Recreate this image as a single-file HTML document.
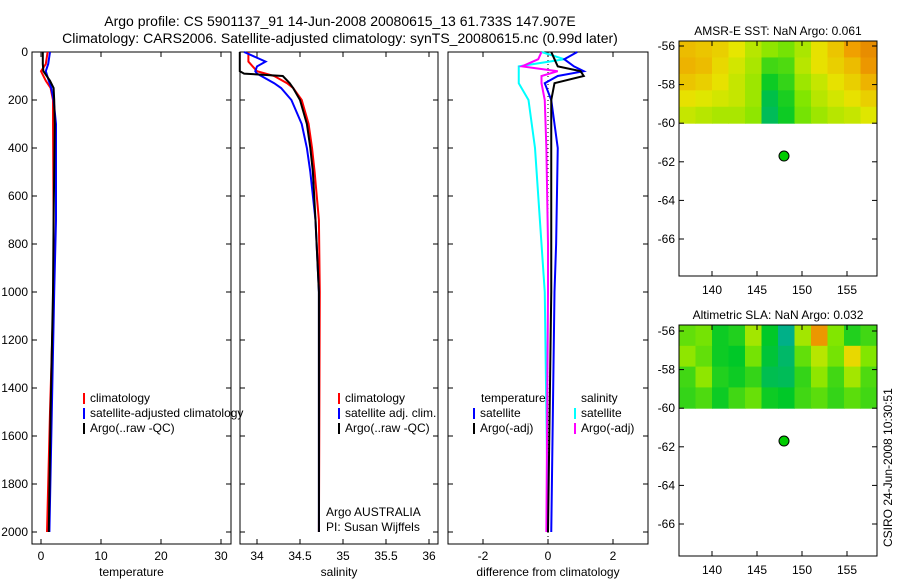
<!DOCTYPE html>
<html><head><meta charset="utf-8"><style>
body{margin:0;background:#fff;width:900px;height:580px;overflow:hidden}
svg{font-family:"Liberation Sans",sans-serif;font-size:12px}
</style></head><body>
<svg id="c" width="900" height="580"></svg>
<script>
// ---- data ----
const depthT=[0,50,80,120,150,200,300,700,1000,1500,2000];
const tClim=[1.1,0.8,0.0,0.8,1.6,2.0,2.0,2.1,2.1,1.5,1.0];
const tSat=[1.5,1.2,0.8,1.3,1.7,2.1,2.5,2.5,2.2,1.8,1.4];
const tArgo=[0.3,0.3,0.4,1.5,2.1,2.2,2.3,2.1,2.0,1.6,1.3];
const depthS=[0,40,60,80,90,100,130,150,200,300,400,500,700,1000,2000];
const sClim=[33.9,33.9,33.95,34.0,34.1,34.2,34.35,34.42,34.52,34.6,34.64,34.67,34.72,34.73,34.72];
const sSat=[33.85,34.1,34.0,33.98,34.0,34.05,34.2,34.28,34.4,34.52,34.58,34.62,34.68,34.72,34.72];
const sArgo=[33.8,33.8,33.8,33.8,33.85,34.3,34.38,34.42,34.5,34.58,34.62,34.65,34.68,34.72,34.72];
const depthD=[0,30,60,80,100,130,200,400,800,1000,2000];
const dTSat=[0.9,0.5,0.8,1.1,0.3,-0.1,0.1,0.3,0.25,0.2,0.1];
const dTArgo=[0.1,0.2,0.3,1.0,1.1,0.2,0.1,0.1,0.1,0.1,0.0];
const dSSat=[-0.2,0.5,-0.9,-0.9,-0.9,-0.9,-0.6,-0.4,-0.2,-0.1,0.0];
const dSArgo=[-0.2,-0.3,-0.8,0.3,-0.2,-0.2,-0.1,-0.05,0,0,-0.05];
const tTicks=[0,10,20,30], sTicks=[34,34.5,35,35.5,36], dTicks=[-2,0,2];
const depthTicks=[0,200,400,600,800,1000,1200,1400,1600,1800,2000];
const lonTicks=[140,145,150,155], latTicks=[-56,-58,-60,-62,-64,-66];
const sst=[
[64,62,60,55,48,42,38,46,56,62,70,74],
[66,64,58,52,46,30,32,48,56,60,64,72],
[62,60,56,50,44,22,28,44,50,56,60,66],
[56,54,52,50,44,16,24,40,48,52,56,60],
[50,48,46,46,42,14,22,38,44,48,50,54]];
const sla=[
[35,38,22,25,45,20,8,45,72,40,25,30],
[42,35,22,20,38,18,12,35,48,38,58,40],
[30,42,25,22,28,15,14,28,42,30,45,32],
[28,32,22,30,36,22,20,30,34,28,34,30]];
const argoLon=148, argoLat=-61.7;
// ---- helpers ----
const S=document.getElementById('c'),NS='http://www.w3.org/2000/svg';
function E(t,a,p){const e=document.createElementNS(NS,t);for(const k in a)e.setAttribute(k,a[k]);(p||S).appendChild(e);return e}
function T(x,y,s,anchor,name,extra){const e=E('text',Object.assign({x:x,y:y,'text-anchor':anchor||'start'},extra||{}));e.textContent=s;return e}
const Y=d=>52+d*0.24;
function panel(x0,x1,name,ticks,X,fmt,label,showY){
  const g=E('g',{});
  E('rect',{x:x0,y:52,width:x1-x0,height:492,fill:'none',stroke:'#000'},g);
  ticks.forEach(v=>{const x=X(v);E('line',{x1:x,x2:x,y1:544,y2:539,stroke:'#000'},g);E('line',{x1:x,x2:x,y1:52,y2:57,stroke:'#000'},g);T(x,560,fmt(v),'middle','x-tick-label')});
  depthTicks.forEach(d=>{E('line',{x1:x0,x2:x0+5,y1:Y(d),y2:Y(d),stroke:'#000'},g);E('line',{x1:x1,x2:x1-5,y1:Y(d),y2:Y(d),stroke:'#000'},g);if(showY)T(x0-4,Y(d)+4,String(d),'end','y-tick-label')});
  T((x0+x1)/2,576,label,'middle','x-axis-title');
}
function line(depths,vals,X,col,name,w){const p=E('polyline',{points:depths.map((d,i)=>X(vals[i])+','+Y(d)).join(' '),fill:'none',stroke:col,'stroke-width':w||2});}
function legend(x,y,items){items.forEach((it,i)=>{E('line',{x1:x,x2:x,y1:y+i*15-9,y2:y+i*15+2,stroke:it[1],'stroke-width':2});T(x+6,y+i*15,it[0],'start','legend-entry')})}
// titles
T(340,26,'Argo profile: CS 5901137_91 14-Jun-2008 20080615_13 61.733S 147.907E','middle','figure-title',{'font-size':'14'});
T(340,43,'Climatology: CARS2006. Satellite-adjusted climatology: synTS_20080615.nc (0.99d later)','middle','figure-subtitle',{'font-size':'14'});
// panel 1
const XT=v=>41+v*6;
panel(32,231,'temperature-panel',tTicks,XT,v=>String(v),'temperature',true);
line(depthT,tClim,XT,'#f00','temp-climatology');line(depthT,tSat,XT,'#00f','temp-satellite');line(depthT,tArgo,XT,'#000','temp-argo');
legend(84,402,[['climatology','#f00'],['satellite-adjusted climatology','#00f'],['Argo(..raw -QC)','#000']]);
// panel 2
const XS=v=>257+(v-34)*86;
panel(240,438,'salinity-panel',sTicks,XS,v=>String(v),'salinity',false);
line(depthS,sClim,XS,'#f00','sal-climatology');line(depthS,sSat,XS,'#00f','sal-satellite');line(depthS,sArgo,XS,'#000','sal-argo');
legend(339,402,[['climatology','#f00'],['satellite adj. clim.','#00f'],['Argo(..raw -QC)','#000']]);
T(326,516,'Argo AUSTRALIA','start','argo-credit');T(326,531,'PI: Susan Wijffels','start','pi-credit');
// panel 3
const XD=v=>548+v*32.5;
panel(448,648,'difference-panel',dTicks,XD,v=>String(v),'difference from climatology',false);
E('line',{x1:XD(0),x2:XD(0),y1:52,y2:544,stroke:'#000','stroke-dasharray':'1,3'});
line(depthD,dSSat,XD,'#0ff','diff-sal-satellite');line(depthD,dSArgo,XD,'#f0f','diff-sal-argo');
line(depthD,dTSat,XD,'#00f','diff-temp-satellite');line(depthD,dTArgo,XD,'#000','diff-temp-argo');
T(481,402,'temperature','start','legend-heading');T(581,402,'salinity','start','legend-heading');
legend(474,417,[['satellite','#00f'],['Argo(-adj)','#000']]);legend(575,417,[['satellite','#0ff'],['Argo(-adj)','#f0f']]);
// maps
function color(v){const stops=[[0,[0,160,200]],[20,[0,200,40]],[40,[130,230,0]],[55,[230,230,0]],[70,[240,160,0]],[85,[210,90,0]]];
  for(let i=1;i<stops.length;i++){if(v<=stops[i][0]){const a=stops[i-1],b=stops[i],t=(v-a[0])/(b[0]-a[0]);return 'rgb('+a[1].map((c,k)=>Math.round(c+(b[1][k]-c)*t)).join(',')+')'}}return 'rgb(210,90,0)'}
function map(top,bot,lat56,title,data,name){
  const g=E('g',{});
  const MX=l=>712+(l-140)*9, MY=la=>lat56+(-56-la)*19.3;
  const y60=MY(-60),cw=198/data[0].length,rh=(y60-top)/data.length;
  data.forEach((r,i)=>r.forEach((v,j)=>{E('rect',{x:679+j*cw,y:top+i*rh,width:cw+0.5,height:rh+0.5,fill:color(v)},g)}));
  E('rect',{x:679,y:top,width:198,height:bot-top,fill:'none',stroke:'#000'},g);
  lonTicks.forEach(l=>{const x=MX(l);E('line',{x1:x,x2:x,y1:bot,y2:bot-5,stroke:'#000'},g);E('line',{x1:x,x2:x,y1:top,y2:top+5,stroke:'#000'},g);T(x,bot+18,String(l),'middle','lon-tick-label')});
  latTicks.forEach(la=>{const y=MY(la);E('line',{x1:679,x2:684,y1:y,y2:y,stroke:'#000'},g);E('line',{x1:877,x2:872,y1:y,y2:y,stroke:'#000'},g);T(675,y+4,String(la),'end','lat-tick-label')});
  const c=E('circle',{cx:MX(argoLon),cy:MY(argoLat),r:5,fill:'#0c0',stroke:'#000'},g);
  T(778,top-6,title,'middle','map-title');
}
map(41,276,46,'AMSR-E SST: NaN Argo: 0.061',sst,'sst-map');
map(325,556,331,'Altimetric SLA: NaN Argo: 0.032',sla,'sla-map');
T(0,0,'CSIRO 24-Jun-2008 10:30:51','start','timestamp',{transform:'translate(892,547) rotate(-90)'});
</script>
</body></html>
